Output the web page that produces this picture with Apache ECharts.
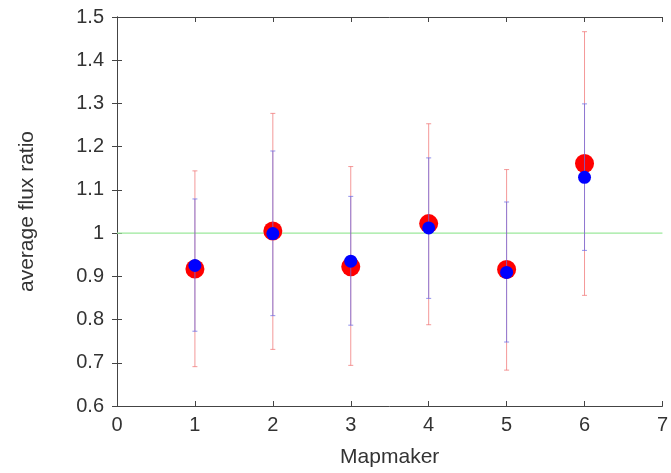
<!DOCTYPE html>
<html>
<head>
<meta charset="utf-8">
<script src="https://cdn.jsdelivr.net/npm/echarts@6/dist/echarts.min.js"></script>
<style>html,body{margin:0;padding:0;background:#fff}#c{width:671px;height:473px}</style>
</head>
<body>
<div id="c"></div>
<script>
const mapmakers = [1, 2, 3, 4, 5, 6];
const redValues = [0.917, 1.005, 0.922, 1.022, 0.916, 1.161];
const redLow = [0.691, 0.731, 0.694, 0.788, 0.683, 0.856];
const redHigh = [1.144, 1.277, 1.154, 1.253, 1.147, 1.466];
const blueValues = [0.925, 0.999, 0.935, 1.012, 0.909, 1.129];
const blueLow = [0.773, 0.809, 0.787, 0.849, 0.748, 0.960];
const blueHigh = [1.079, 1.190, 1.085, 1.174, 1.072, 1.299];
const referenceLine = 1.0;

const font = 'Liberation Sans, Arial, sans-serif';
const axisColor = '#444';
const labelColor = '#333';

function errorBarSeries(name, low, high, color) {
  return {
    type: 'custom',
    name: name,
    xAxisIndex: 0, yAxisIndex: 0,
    data: mapmakers.map((x, i) => [x, low[i], high[i]]),
    renderItem: function (params, api) {
      const x = api.value(0);
      const lo = api.coord([x, api.value(1)]);
      const hi = api.coord([x, api.value(2)]);
      const hw = 2.5;
      const style = { stroke: color, lineWidth: 1 };
      return {
        type: 'group',
        children: [
          { type: 'line', shape: { x1: lo[0], y1: lo[1], x2: hi[0], y2: hi[1] }, style: style },
          { type: 'line', shape: { x1: lo[0] - hw, y1: lo[1], x2: lo[0] + hw, y2: lo[1] }, style: style },
          { type: 'line', shape: { x1: hi[0] - hw, y1: hi[1], x2: hi[0] + hw, y2: hi[1] }, style: style }
        ]
      };
    },
    silent: true,
    animation: false
  };
}

const chart = echarts.init(document.getElementById('c'), null, { renderer: 'canvas' });
chart.setOption({
  animation: false,
  grid: { left: 117, right: 4, top: 17, bottom: 64 },
  xAxis: [
    {
      type: 'value', min: 0, max: 7, interval: 1, position: 'bottom',
      name: 'Mapmaker', nameLocation: 'middle', nameGap: 41,
      nameTextStyle: { fontFamily: font, fontSize: 21, color: labelColor },
      axisLine: { show: true, lineStyle: { color: axisColor, width: 1 } },
      axisTick: { show: true, inside: true, length: 5, lineStyle: { color: axisColor } },
      axisLabel: { fontFamily: font, fontSize: 20, color: labelColor, margin: 9 },
      splitLine: { show: false }
    },
    {
      type: 'value', min: 0, max: 7, interval: 1, position: 'top',
      axisLine: { show: true, lineStyle: { color: axisColor, width: 1 } },
      axisTick: { show: true, inside: true, length: 5, lineStyle: { color: axisColor } },
      axisLabel: { show: false },
      splitLine: { show: false }
    }
  ],
  yAxis: [
    {
      type: 'value', min: 0.6, max: 1.5, interval: 0.1, position: 'left',
      name: 'average flux ratio', nameLocation: 'middle', nameGap: 79,
      nameTextStyle: { fontFamily: font, fontSize: 21, color: labelColor },
      axisLine: { show: true, lineStyle: { color: axisColor, width: 1 } },
      axisTick: { show: true, inside: true, length: 5, lineStyle: { color: axisColor } },
      axisLabel: { fontFamily: font, fontSize: 20, color: labelColor, margin: 13,
        formatter: v => String(Math.round(v * 10) / 10) },
      splitLine: { show: false }
    },
    {
      type: 'value', min: 0.6, max: 1.5, interval: 0.1, position: 'right',
      axisLine: { show: true, lineStyle: { color: axisColor, width: 1 } },
      axisTick: { show: true, inside: true, length: 5, lineStyle: { color: axisColor } },
      axisLabel: { show: false },
      splitLine: { show: false }
    }
  ],
  series: [
    {
      type: 'line', name: 'reference', xAxisIndex: 0, yAxisIndex: 0,
      data: [[0, referenceLine], [7, referenceLine]],
      symbol: 'none', lineStyle: { color: '#9be89b', width: 1.2 }, silent: true, z: 1
    },
    Object.assign(errorBarSeries('red err', redLow, redHigh, 'rgba(240,110,110,0.7)'), { z: 2 }),
    {
      type: 'scatter', name: 'red', xAxisIndex: 0, yAxisIndex: 0,
      data: mapmakers.map((x, i) => [x, redValues[i]]),
      symbolSize: 19, itemStyle: { color: '#ff0000', opacity: 1 }, z: 3, silent: true
    },
    Object.assign(errorBarSeries('blue err', blueLow, blueHigh, 'rgba(110,110,230,0.75)'), { z: 4 }),
    {
      type: 'scatter', name: 'blue', xAxisIndex: 0, yAxisIndex: 0,
      data: mapmakers.map((x, i) => [x, blueValues[i]]),
      symbolSize: 13, itemStyle: { color: '#0000ff', opacity: 1 }, z: 5, silent: true
    }
  ]
});
</script>
</body>
</html>
